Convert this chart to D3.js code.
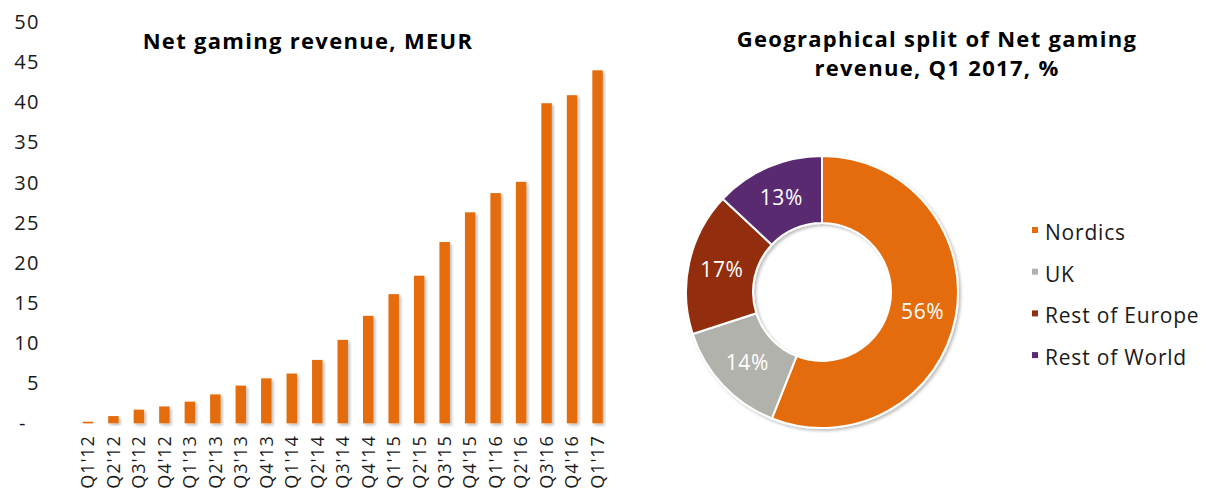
<!DOCTYPE html>
<html>
<head>
<meta charset="utf-8">
<script src="https://cdn.jsdelivr.net/npm/d3@7/dist/d3.min.js"></script>
<style>
  body { margin: 0; background: #fff; }
  svg { display: block; font-family: "Open Sans", sans-serif; }
</style>
</head>
<body>
<svg id="chart" width="1206" height="490"></svg>
<script>
const quarters = ["Q1'12", "Q2'12", "Q3'12", "Q4'12", "Q1'13", "Q2'13", "Q3'13", "Q4'13",
  "Q1'14", "Q2'14", "Q3'14", "Q4'14", "Q1'15", "Q2'15", "Q3'15", "Q4'15",
  "Q1'16", "Q2'16", "Q3'16", "Q4'16", "Q1'17"];
const revenue = [0.2, 0.9, 1.7, 2.1, 2.7, 3.6, 4.7, 5.6, 6.2, 7.9, 10.4, 13.4,
  16.1, 18.4, 22.6, 26.3, 28.7, 30.1, 39.9, 40.9, 44.0];
const yTicks = [0, 5, 10, 15, 20, 25, 30, 35, 40, 45, 50];

const regions = ["Nordics", "UK", "Rest of Europe", "Rest of World"];
const shares = [56, 14, 17, 13];
const regionColors = ["#E46C0A", "#B2B2AC", "#922F0D", "#5A2B70"];

const svg = d3.select("#chart");
const textColor = "#1a1a1a";

// soft shadow like the office chart
const defs = svg.append("defs");
defs.append("filter")
  .attr("id", "shadow")
  .attr("x", "-20%").attr("y", "-20%")
  .attr("width", "150%").attr("height", "150%")
  .append("feDropShadow")
  .attr("dx", 2).attr("dy", 2)
  .attr("stdDeviation", 1.8)
  .attr("flood-color", "#000")
  .attr("flood-opacity", 0.25);

// ---- bar chart ----
const xScale = d3.scaleBand()
  .domain(quarters)
  .range([75.2, 610.3])
  .paddingInner(0.59)
  .paddingOuter(0.295);

const yScale = d3.scaleLinear()
  .domain([0, 50])
  .range([423.3, 22.2]);

const bars = svg.append("g");
bars.selectAll("rect")
  .data(revenue)
  .enter()
  .append("rect")
  .attr("x", (d, i) => xScale(quarters[i]))
  .attr("y", (d) => yScale(d))
  .attr("width", xScale.bandwidth())
  .attr("height", (d) => yScale(0) - yScale(d))
  .attr("fill", "#E46C0A")
  .attr("filter", "url(#shadow)");

const yAxisG = svg.append("g")
  .attr("transform", "translate(40,0)")
  .call(d3.axisLeft(yScale).tickValues(yTicks).tickSize(0).tickPadding(0)
    .tickFormat((d) => (d === 0 ? "-" : d)));
yAxisG.select(".domain").remove();
yAxisG.selectAll("text")
  .attr("font-family", "'Open Sans', sans-serif")
  .attr("font-size", 20)
  .attr("letter-spacing", 1.5)
  .attr("fill", textColor)
  .attr("dx", (d) => (d === 0 ? -13 : 0));

const xAxisG = svg.append("g")
  .attr("transform", `translate(0,${yScale(0)})`)
  .call(d3.axisBottom(xScale).tickSize(0).tickPadding(0));
xAxisG.select(".domain")
  .attr("stroke", "#a6a6a6")
  .attr("stroke-width", 2)
  .attr("filter", "url(#shadow)");
xAxisG.selectAll("text")
  .attr("font-family", "'Open Sans', sans-serif")
  .attr("font-size", 18)
  .attr("letter-spacing", 0.9)
  .attr("fill", textColor)
  .attr("text-anchor", "end")
  .attr("transform", "rotate(-90)")
  .attr("x", -12)
  .attr("y", 0)
  .attr("dy", "0.35em");

svg.append("text")
  .attr("x", 308)
  .attr("y", 48.5)
  .attr("text-anchor", "middle")
  .attr("font-size", 22)
  .attr("font-weight", 700)
  .attr("letter-spacing", 1.3)
  .attr("fill", "#000")
  .text("Net gaming revenue, MEUR");

// ---- donut ----
const cx = 822, cy = 292;
const outerR = 136, innerR = 69;

const pie = d3.pie().sort(null).value((d) => d);
const arc = d3.arc().innerRadius(innerR).outerRadius(outerR);
const arcs = pie(shares);

const donut = svg.append("g").attr("transform", `translate(${cx},${cy})`);
donut.append("g")
  .attr("filter", "url(#shadow)")
  .selectAll("path")
  .data(arcs)
  .enter()
  .append("path")
  .attr("d", arc)
  .attr("fill", (d, i) => regionColors[i])
  .attr("stroke", "#fff")
  .attr("stroke-width", 2);

donut.selectAll("text.pct")
  .data(arcs)
  .enter()
  .append("text")
  .attr("class", "pct")
  .attr("transform", (d) => `translate(${arc.centroid(d)})`)
  .attr("text-anchor", "middle")
  .attr("dy", "0.36em")
  .attr("font-size", 21)
  .attr("letter-spacing", 0.6)
  .attr("fill", "#fff")
  .text((d) => d.data + "%");

const titleR = svg.append("text")
  .attr("text-anchor", "middle")
  .attr("font-size", 22)
  .attr("font-weight", 700)
  .attr("letter-spacing", 1.3)
  .attr("fill", "#000");
titleR.append("tspan").attr("x", 937).attr("y", 47).text("Geographical split of Net gaming");
titleR.append("tspan").attr("x", 937).attr("y", 75.5).text("revenue, Q1 2017, %");

const legend = svg.append("g");
const legendItem = legend.selectAll("g")
  .data(regions)
  .enter()
  .append("g")
  .attr("transform", (d, i) => `translate(1032,${240 + i * 41.7})`);
legendItem.append("rect")
  .attr("x", 0)
  .attr("y", -13)
  .attr("width", 6)
  .attr("height", 6)
  .attr("fill", (d, i) => regionColors[i]);
legendItem.append("text")
  .attr("x", 13)
  .attr("y", 0)
  .attr("font-size", 21)
  .attr("letter-spacing", 0.8)
  .attr("fill", textColor)
  .text((d) => d);
</script>
</body>
</html>
